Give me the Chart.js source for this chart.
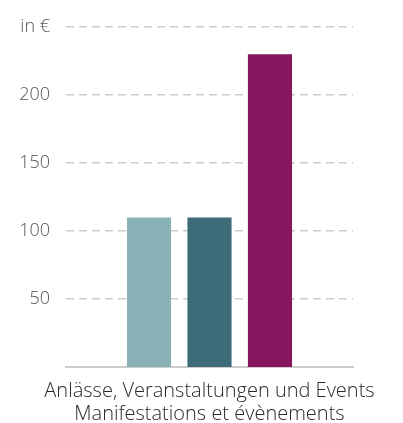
<!DOCTYPE html>
<html>
<head>
<meta charset="utf-8">
<script src="https://cdn.jsdelivr.net/npm/chart.js@4"></script>
<style>
  html,body{margin:0;padding:0;background:#fff}
  #wrap{width:403px;height:423px;position:relative}
</style>
</head>
<body>
<div id="wrap"><canvas id="c"></canvas></div>
<script>
// data
const categories = [['Anlässe, Veranstaltungen und Events', 'Manifestations et évènements']]
const seriesA = [110]
const seriesB = [110]
const seriesC = [230]
const yTicks = [50, 100, 150, 200, 250]
const unitLabel = 'in €'

const FONT = "'Open Sans', sans-serif"

const ctx = document.getElementById('c').getContext('2d')
new Chart(ctx, {
  type: 'bar',
  data: {
    labels: categories,
    datasets: [
      {label: 'A', data: seriesA, backgroundColor: '#88b2b5'},
      {label: 'B', data: seriesB, backgroundColor: '#3d6b78'},
      {label: 'C', data: seriesC, backgroundColor: '#86165d'}
    ]
  },
  options: {
    responsive: true,
    maintainAspectRatio: false,
    animation: false,
    devicePixelRatio: 1,
    layout: {padding: {top: 27, right: 50, left: 0, bottom: 0}},
    plugins: {legend: {display: false}, tooltip: {enabled: false}},
    datasets: {bar: {barPercentage: 0.73, categoryPercentage: 0.632}},
    scales: {
      x: {
        grid: {display: false, drawTicks: false},
        border: {display: true, color: '#cccccc', width: 2},
        ticks: {color: '#2a2a2a', padding: 13, maxRotation: 0, font: {family: FONT, size: 20, weight: 300, lineHeight: 1.15}},
        // the long label must not push the plot area in
        afterFit(s){ s.height = 56; s.paddingLeft = 0; s.paddingRight = 0 }
      },
      y: {
        min: 0, max: 250,
        afterBuildTicks(s){ s.ticks = yTicks.map(v => ({value: v})) },
        grid: {
          color: '#cccccc', lineWidth: 1.5, drawTicks: false
        },
        border: {display: false, dash: [8, 5]},
        ticks: {
          color: '#555', padding: 16,
          font: {family: FONT, size: 18, weight: 300},
          callback: v => v === 250 ? unitLabel : v
        },
        afterFit(s){ s.width = 66 }
      }
    }
  }
})
</script>
</body>
</html>
